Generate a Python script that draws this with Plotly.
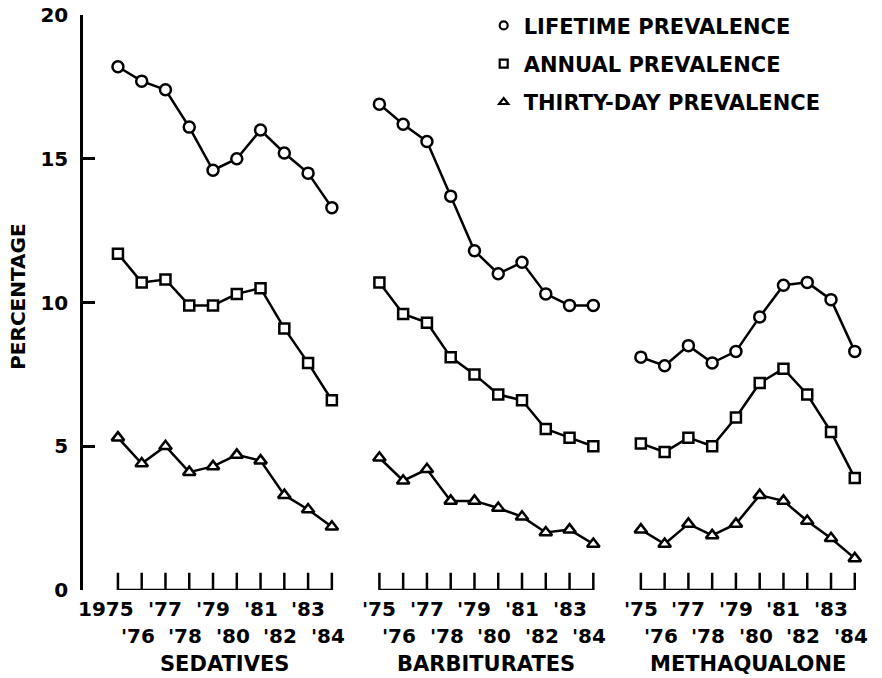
import plotly.graph_objects as go

years = [1975, 1976, 1977, 1978, 1979, 1980, 1981, 1982, 1983, 1984]
panels = ["SEDATIVES", "BARBITURATES", "METHAQUALONE"]
panel_offsets = [0, 11, 22]

sedatives_lifetime = [18.2, 17.7, 17.4, 16.1, 14.6, 15.0, 16.0, 15.2, 14.5, 13.3]
sedatives_annual = [11.7, 10.7, 10.8, 9.9, 9.9, 10.3, 10.5, 9.1, 7.9, 6.6]
sedatives_thirty = [5.3, 4.4, 5.0, 4.1, 4.3, 4.7, 4.5, 3.3, 2.8, 2.2]

barbiturates_lifetime = [16.9, 16.2, 15.6, 13.7, 11.8, 11.0, 11.4, 10.3, 9.9, 9.9]
barbiturates_annual = [10.7, 9.6, 9.3, 8.1, 7.5, 6.8, 6.6, 5.6, 5.3, 5.0]
barbiturates_thirty = [4.6, 3.8, 4.2, 3.1, 3.1, 2.85, 2.55, 2.0, 2.1, 1.6]

methaqualone_lifetime = [8.1, 7.8, 8.5, 7.9, 8.3, 9.5, 10.6, 10.7, 10.1, 8.3]
methaqualone_annual = [5.1, 4.8, 5.3, 5.0, 6.0, 7.2, 7.7, 6.8, 5.5, 3.9]
methaqualone_thirty = [2.1, 1.6, 2.3, 1.9, 2.3, 3.3, 3.1, 2.4, 1.8, 1.1]

series_names = ["LIFETIME PREVALENCE", "ANNUAL PREVALENCE", "THIRTY-DAY PREVALENCE"]
series_data = [
    [sedatives_lifetime, barbiturates_lifetime, methaqualone_lifetime],
    [sedatives_annual, barbiturates_annual, methaqualone_annual],
    [sedatives_thirty, barbiturates_thirty, methaqualone_thirty],
]
symbols = ["circle", "square", "triangle-up"]
sizes = [11, 10, 11]

FONT = "DejaVu Sans"
fig = go.Figure()

for name, data, sym, sz in zip(series_names, series_data, symbols, sizes):
    xs, ys = [], []
    for off, vals in zip(panel_offsets, data):
        xs += [off + (yr - years[0]) for yr in years] + [None]
        ys += list(vals) + [None]
    fig.add_trace(go.Scatter(
        x=xs, y=ys, mode="lines+markers", showlegend=False,
        line=dict(color="black", width=2.5),
        marker=dict(symbol=sym, size=sz, color="white", line=dict(color="black", width=2.5)),
        connectgaps=False, hoverinfo="skip"))
    # legend entry
    fig.add_trace(go.Scatter(
        x=[None], y=[None], mode="markers", name=name, legendgroup=name,
        marker=dict(symbol=sym, size=8, color="white", line=dict(color="black", width=2.2))))

shapes = []
annotations = []
for p, (off, title) in enumerate(zip(panel_offsets, panels)):
    x0 = off
    x1 = off + (years[-1] - years[0])
    shapes.append(dict(type="line", xref="x", yref="y", x0=x0, x1=x1, y0=0, y1=0,
                       line=dict(color="black", width=2.5)))
    for yr in years:
        xv = off + (yr - years[0])
        shapes.append(dict(type="line", xref="x", yref="y", x0=xv, x1=xv, y0=0, y1=0.6,
                           line=dict(color="black", width=2.5)))
        i = yr - years[0]
        if p == 0 and i == 0:
            txt = str(yr)
            xshift = -12
        else:
            txt = "'" + str(yr)[2:]
            xshift = 0 if i % 2 == 0 else -4
        yshift = -19 if i % 2 == 0 else -46
        annotations.append(dict(x=xv, y=0, xref="x", yref="y", text=txt, showarrow=False,
                                xanchor="center", yanchor="middle", xshift=xshift, yshift=yshift,
                                font=dict(family=FONT, size=20, color="black", weight="bold")))
    annotations.append(dict(x=(x0 + x1) / 2, y=0, xref="x", yref="y", text=title, showarrow=False,
                            xanchor="center", yanchor="middle", yshift=-74,
                            font=dict(family=FONT, size=21, color="black", weight="bold")))

annotations.append(dict(x=-0.083, y=0.51, xref="paper", yref="paper", text="PERCENTAGE",
                        textangle=-90, showarrow=False, xanchor="center", yanchor="middle",
                        font=dict(family=FONT, size=20, color="black", weight="bold")))

fig.update_layout(
    width=874, height=670,
    margin=dict(l=75, r=17, t=7, b=88, autoexpand=False),
    paper_bgcolor="white", plot_bgcolor="white",
    font=dict(family=FONT, size=19, color="black"),
    xaxis=dict(range=[-1.47, 31.43], visible=False, showgrid=False, zeroline=False,
               automargin=False),
    yaxis=dict(range=[0, 20], tickvals=[0, 5, 10, 15, 20], ticks="inside", ticklen=12,
               tickwidth=2.5, tickcolor="black", showline=True, linecolor="black", linewidth=2.5,
               showgrid=False, zeroline=False, ticklabelstandoff=8, automargin=False,
               ticklabeloverflow="allow",
               tickfont=dict(family=FONT, size=20, color="black", weight="bold")),
    legend=dict(x=0.5124, y=1.017, xanchor="left", yanchor="top", bgcolor="rgba(0,0,0,0)",
                font=dict(family=FONT, size=21, color="black", weight="bold"), tracegroupgap=8,
                traceorder="grouped"),
    shapes=shapes, annotations=annotations,
)

fig.write_html("out.html")
